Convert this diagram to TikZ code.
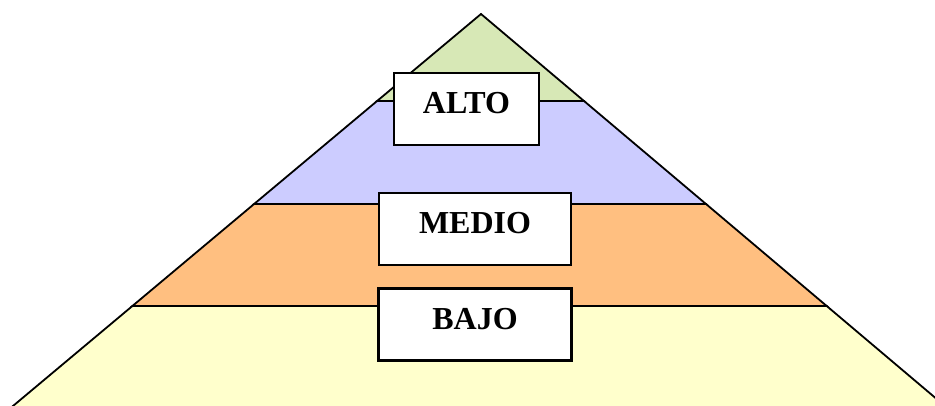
\documentclass[tikz,border=0pt]{standalone}
\usepackage{fontspec}
\setmainfont{Liberation Serif}
\definecolor{bandgreen}{HTML}{D7E8B6}
\definecolor{bandblue}{HTML}{CCCCFF}
\definecolor{bandorange}{HTML}{FFBF80}
\definecolor{bandyellow}{HTML}{FFFFCC}
\begin{document}
\begin{tikzpicture}[x=1pt,y=-1pt,
  band/.style={draw=black, line width=1.8pt, line join=miter},
  levelbox/.style={draw=black, line width=2.2pt, fill=white, inner sep=0pt,
    minimum height=72pt, text height=21pt, text depth=12pt,
    font=\fontsize{32}{36}\selectfont\bfseries}]
\useasboundingbox (0,0) rectangle (935,406);
\clip (0,0) rectangle (935,406);
% bands (top to bottom)
\coordinate (apex) at (481,14);
\coordinate (l1) at (377.1,101); \coordinate (r1) at (584,101);
\coordinate (l2) at (254.1,204); \coordinate (r2) at (706,204);
\coordinate (l3) at (132.4,306); \coordinate (r3) at (826.7,306);
\coordinate (l4) at (8.2,410);   \coordinate (r4) at (949.7,410);
\draw[band, fill=bandyellow] (l3) -- (r3) -- (r4) -- (l4) -- cycle;
\draw[band, fill=bandorange] (l2) -- (r2) -- (r3) -- (l3) -- cycle;
\draw[band, fill=bandblue]   (l1) -- (r1) -- (r2) -- (l2) -- cycle;
\draw[band, fill=bandgreen]  (apex) -- (r1) -- (l1) -- cycle;
% labels
\node[levelbox, minimum width=145pt] (alto)  at (466.5,109) {ALTO};
\node[levelbox, minimum width=192pt] (medio) at (475,229)   {MEDIO};
\node[levelbox, minimum width=193pt] (bajo)  at (475,324.5) {BAJO};
\end{tikzpicture}
\end{document}
